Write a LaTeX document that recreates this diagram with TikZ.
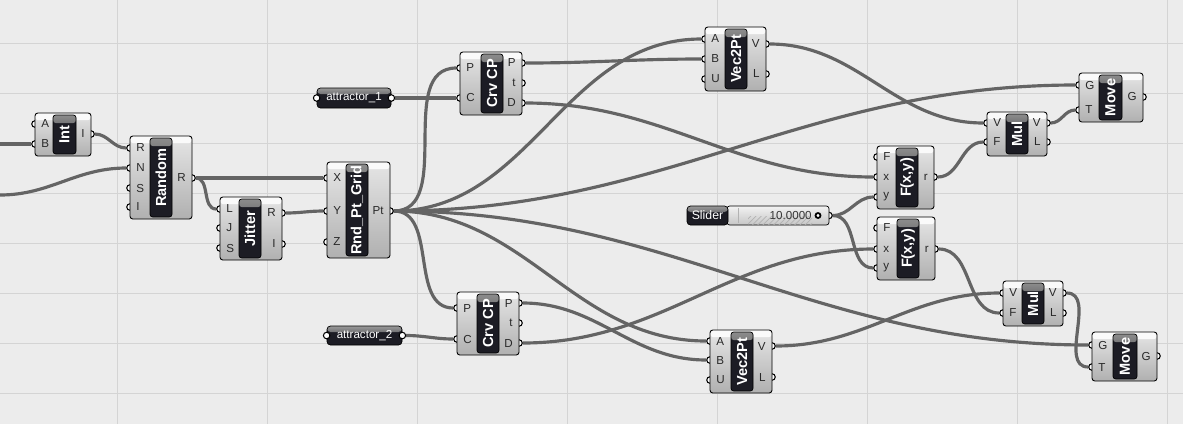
\documentclass[tikz,border=0pt]{standalone}
\usepackage{fontspec}
\setmainfont{Liberation Sans}
\usetikzlibrary{fit, patterns}

\definecolor{canvas}{RGB}{236,236,236}
\definecolor{gridc}{RGB}{212,212,212}
\definecolor{wirec}{RGB}{100,100,100}
\definecolor{lblc}{RGB}{28,28,36}
\definecolor{plabc}{RGB}{40,40,40}

\pgfdeclarelayer{grid}
\pgfdeclarelayer{wires}
\pgfdeclarelayer{ports}
\pgfsetlayers{grid,wires,ports,main}

\def\px{0.02cm}

\tikzset{
  comp/.style={draw=black, line width=0.5pt, rounded corners=1.6pt, inner sep=0pt,
    top color=gray!20, bottom color=gray!62,
    path picture={\fill[gray!4] (path picture bounding box.north west) rectangle ([yshift=-7*\px]path picture bounding box.north east);}},
  lblbox/.style={fill=lblc, draw=black, line width=0.4pt, rounded corners=1.5pt, inner sep=0pt,
    path picture={\shade[top color=black!45, bottom color=lblc] (path picture bounding box.north west) rectangle ([yshift=-8*\px]path picture bounding box.north east);}},
  ltext/.style={text=white, font=\bfseries\fontsize{8.3}{9}\selectfont, rotate=90, inner sep=0pt},
  param/.style={fill=lblc, draw=black, line width=0.4pt, rounded corners=2pt, inner sep=0pt,
    path picture={\shade[top color=black!40, bottom color=lblc] (path picture bounding box.north west) rectangle ([yshift=-6*\px]path picture bounding box.north east);}},
  ptext/.style={text=white, font=\fontsize{6.6}{7}\selectfont, inner sep=0pt},
  sbody/.style={draw=black, line width=0.4pt, rounded corners=1.5pt, inner sep=0pt, top color=gray!10, bottom color=gray!45},
  port/.style={circle, draw=black, fill=white, line width=0.6pt, inner sep=0pt, minimum size=6.5*\px},
  grip/.style={circle, draw=black, fill=white, line width=1pt, inner sep=0pt, minimum size=5*\px},
  plab/.style={text=plabc, font=\fontsize{6.6}{7}\selectfont, inner sep=0pt},
  wire/.style={draw=wirec, line width=1.8pt, out=0, in=180},
  gridline/.style={draw=gridc, line width=0.5pt}
}

% component: name, box corners, label box x, text
\newcommand{\gcomp}[8]{%
  \node[comp, fit={(#2,#3) (#4,#5)}] (#1) {};
  \node[lblbox, fit={(#6,#3+2) (#7,#5-2)}] (#1-l) {};
  \node[ltext] (#1-t) at (#1-l) {#8};
}
\newcommand{\gins}[3]{%
  \foreach \p/\y in {#3} {
    \begin{pgfonlayer}{ports}\node[port] (#1-i\p) at (#2,\y) {};\end{pgfonlayer}
    \node[plab, anchor=west] (#1-ti\p) at (#2+6,\y) {\p};
  }
}
\newcommand{\gouts}[3]{%
  \foreach \p/\y in {#3} {
    \begin{pgfonlayer}{ports}\node[port] (#1-o\p) at (#2,\y) {};\end{pgfonlayer}
    \node[plab, anchor=east] (#1-to\p) at (#2-6,\y) {\p};
  }
}

\begin{document}
\begin{tikzpicture}[x=0.02cm, y=-0.02cm]
  \useasboundingbox (0,0) rectangle (1183,424);
  \begin{pgfonlayer}{grid}
    \fill[canvas] (0,0) rectangle (1183,424);
    \foreach \x in {117,267,...,1167} \draw[gridline] (\x,0) -- (\x,424);
    \foreach \y in {43,93,...,393} \draw[gridline] (0,\y) -- (1183,\y);
  \end{pgfonlayer}

  % components
  \gcomp{int}{35}{113}{91}{156}{53}{76}{Int}
  \gins{int}{35}{A/124,B/144}
  \gouts{int}{91}{I/134}

  \gcomp{rnd}{130}{136}{192}{219}{150}{172}{Random}
  \gins{rnd}{130}{R/148,N/168,S/188,I/207}
  \gouts{rnd}{192}{R/178}

  \gcomp{jit}{220}{197}{282}{260}{239}{261}{Jitter}
  \gins{jit}{220}{L/209,J/228,S/248}
  \gouts{jit}{282}{R/213,I/244}

  \gcomp{grid}{327}{162}{390}{258}{346}{368}{Rnd\_Pt\_Grid}
  \gins{grid}{327}{X/178,Y/211,Z/242}
  \gouts{grid}{390}{Pt/211}

  \gcomp{ccpa}{460}{52}{522}{115}{481}{503}{Crv CP}
  \gins{ccpa}{460}{P/68,C/98}
  \gouts{ccpa}{522}{P/63,t/83,D/103}

  \gcomp{ccpb}{457}{292}{519}{355}{477}{499}{Crv CP}
  \gins{ccpb}{457}{P/308,C/339}
  \gouts{ccpb}{519}{P/303,t/323,D/343}

  \gcomp{v2pa}{705}{27}{766}{91}{725}{747}{Vec2Pt}
  \gins{v2pa}{705}{A/39,B/59,U/79}
  \gouts{v2pa}{766}{V/44,L/74}

  \gcomp{v2pb}{710}{330}{772}{393}{731}{753}{Vec2Pt}
  \gins{v2pb}{710}{A/341,B/360,U/380}
  \gouts{v2pb}{772}{V/346,L/377}

  \gcomp{fxa}{877}{146}{934}{209}{896}{918}{F(x,y)}
  \gins{fxa}{877}{F/157,x/177,y/197}
  \gouts{fxa}{934}{r/177}

  \gcomp{fxb}{877}{217}{935}{280}{897}{919}{F(x,y)}
  \gins{fxb}{877}{F/228,x/249,y/268}
  \gouts{fxb}{935}{r/249}

  \gcomp{mula}{987}{112}{1047}{156}{1006}{1028}{Mul}
  \gins{mula}{987}{V/123,F/142}
  \gouts{mula}{1047}{V/123,L/142}

  \gcomp{mulb}{1003}{281}{1063}{326}{1022}{1044}{Mul}
  \gins{mulb}{1003}{V/293,F/313}
  \gouts{mulb}{1063}{V/293,L/313}

  \gcomp{mova}{1079}{73}{1143}{122}{1099}{1122}{Move}
  \gins{mova}{1079}{G/85,T/110}
  \gouts{mova}{1143}{G/97}

  \gcomp{movb}{1092}{332}{1157}{381}{1113}{1137}{Move}
  \gins{movb}{1092}{G/345,T/367}
  \gouts{movb}{1157}{G/356}

  % params
  \node[param, fit={(317,88) (391,108)}] (att1) {};
  \node[ptext] (att1-t) at (att1) {attractor\_1};
  \node[port] (att1-i) at (att1.west) {};
  \node[port] (att1-o) at (att1.east) {};

  \node[param, fit={(327,326) (402,345)}] (att2) {};
  \node[ptext] (att2-t) at (att2) {attractor\_2};
  \node[port] (att2-i) at (att2.west) {};
  \node[port] (att2-o) at (att2.east) {};

  % slider
  \begin{pgfonlayer}{ports}\node[port] (sld-o) at (829,215.5) {};\end{pgfonlayer}
  \node[sbody, fit={(727,206) (829,225)}] (sld) {};
  \fill[pattern=north east lines, pattern color=gray!60] (748,216) rectangle (812,224);
  \draw[gray!60, line width=0.3pt] (738,208) -- (738,223);
  \node[param, fit={(687,206) (728,225)}] (sld-l) {};
  \node[ptext, font=\fontsize{7}{8}\selectfont] (sld-t) at (sld-l) {Slider};
  \node[plab, anchor=east, text=black!80] (sld-v) at (812,215.5) {10.0000};
  \node[grip] (sld-g) at (818,215.5) {};

  % wires
  \coordinate (in1) at (0,144);
  \coordinate (in2) at (0,195);
  \begin{pgfonlayer}{wires}
    \draw[wire] (in1) to (int-iB);
    \draw[wire] (in2) to (rnd-iN);
    \draw[wire] (int-oI) to (rnd-iR);
    \draw[wire] (rnd-oR) to (grid-iX);
    \draw[wire] (rnd-oR) to (jit-iL);
    \draw[wire] (jit-oR) to (grid-iY);
    \draw[wire] (att1-o) to (ccpa-iC);
    \draw[wire] (att2-o) to (ccpb-iC);
    \draw[wire] (grid-oPt) to (ccpa-iP);
    \draw[wire] (grid-oPt) to (v2pa-iA);
    \draw[wire] (grid-oPt) to (mova-iG);
    \draw[wire] (grid-oPt) to (movb-iG);
    \draw[wire] (grid-oPt) to (v2pb-iA);
    \draw[wire] (grid-oPt) to (ccpb-iP);
    \draw[wire] (ccpa-oP) to (v2pa-iB);
    \draw[wire] (ccpa-oD) to (fxa-ix);
    \draw[wire] (ccpb-oP) to (v2pb-iB);
    \draw[wire] (ccpb-oD) to (fxb-ix);
    \draw[wire] (sld-o) to (fxa-iy);
    \draw[wire] (sld-o) to (fxb-iy);
    \draw[wire] (v2pa-oV) to (mula-iV);
    \draw[wire] (fxa-or) to (mula-iF);
    \draw[wire] (mula-oV) to (mova-iT);
    \draw[wire] (v2pb-oV) to (mulb-iV);
    \draw[wire] (fxb-or) to (mulb-iF);
    \draw[wire] (mulb-oV) to (movb-iT);
  \end{pgfonlayer}
\end{tikzpicture}
\end{document}
